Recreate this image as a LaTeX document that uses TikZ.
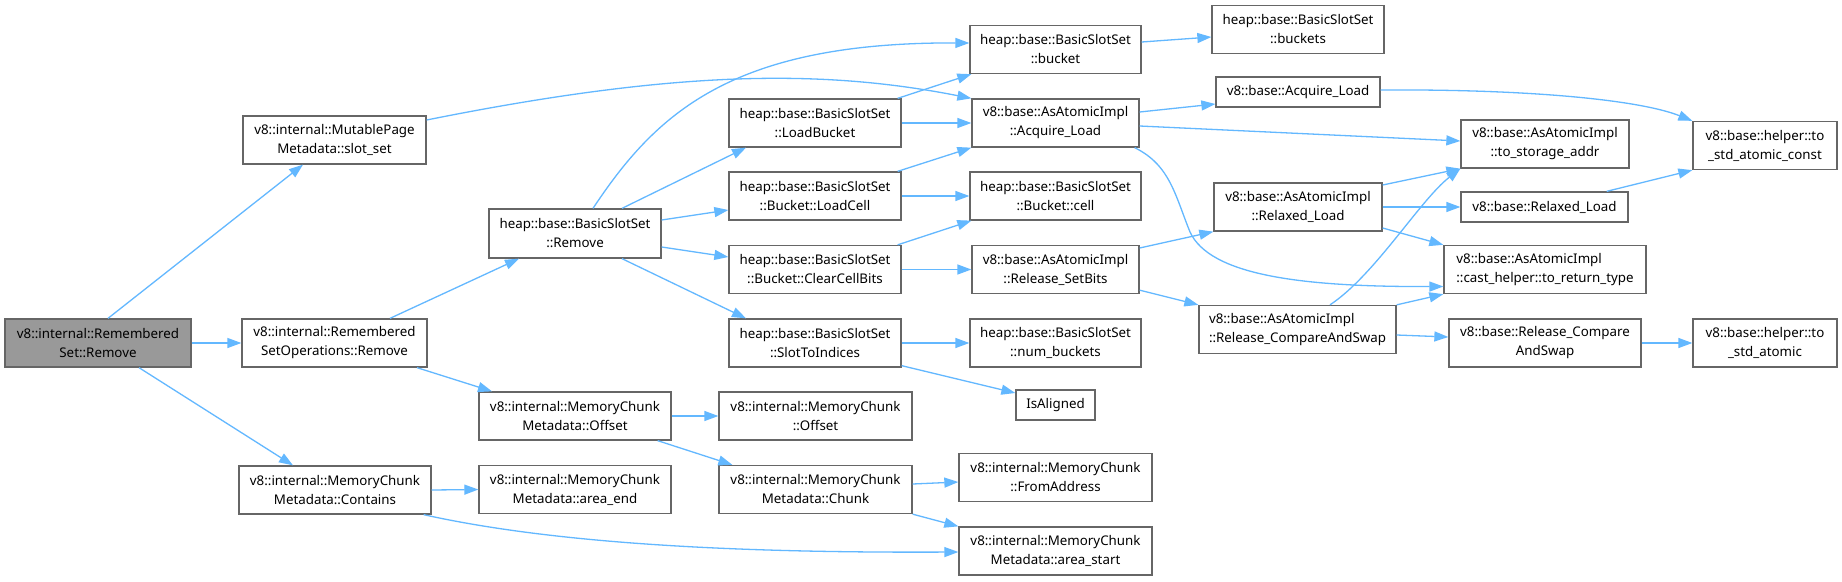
\documentclass[tikz,border=0pt]{standalone}
\usepackage{fontspec}
\setmainfont{Noto Sans}
\usetikzlibrary{arrows.meta}
\definecolor{boxgray}{HTML}{666666}
\definecolor{hlgray}{HTML}{999999}
\definecolor{edgeblue}{HTML}{63B8FF}
\newcommand{\nodefnt}{\fontsize{13.33pt}{19pt}\selectfont}
\tikzset{
  box/.style={draw=boxgray, line width=1.3pt, fill=white, inner sep=1pt, align=center, font=\nodefnt, text=black, minimum height=48pt},
  hl/.style={fill=hlgray},
  conn/.style={draw=edgeblue, line width=1.3pt, -{Triangle[length=14pt,width=10pt]}},
}
\begin{document}
\begin{tikzpicture}[x=1pt,y=-1pt]
\useasboundingbox[fill=white] (0,0) rectangle (1842,581);
% nodes
\node[box,hl,minimum width=186pt] (rs) at (98,343) {v8::internal::Remembered\\Set::Remove};
\node[box,minimum width=183pt] (slot) at (334.5,140) {v8::internal::MutablePage\\Metadata::slot\_set};
\node[box,minimum width=185pt] (rso) at (334.5,343) {v8::internal::Remembered\\SetOperations::Remove};
\node[box,minimum width=192pt] (contains) at (335,490) {v8::internal::MemoryChunk\\Metadata::Contains};
\node[box,minimum width=172pt,minimum height=49pt] (bssremove) at (575,233.5) {heap::base::BasicSlotSet\\::Remove};
\node[box,minimum width=172pt] (loadbucket) at (815,123) {heap::base::BasicSlotSet\\::LoadBucket};
\node[box,minimum width=172pt] (loadcell) at (815,196) {heap::base::BasicSlotSet\\::Bucket::LoadCell};
\node[box,minimum width=172pt] (clearcell) at (815,269.5) {heap::base::BasicSlotSet\\::Bucket::ClearCellBits};
\node[box,minimum width=172pt] (slottoidx) at (815,343) {heap::base::BasicSlotSet\\::SlotToIndices};
\node[box,minimum width=192pt] (mcmoffset) at (575,416) {v8::internal::MemoryChunk\\Metadata::Offset};
\node[box,minimum width=192pt] (areaend) at (575,489.5) {v8::internal::MemoryChunk\\Metadata::area\_end};
\node[box,minimum width=193pt] (mcoffset) at (815.5,416) {v8::internal::MemoryChunk\\::Offset};
\node[box,minimum width=193pt] (chunk) at (815.5,489.5) {v8::internal::MemoryChunk\\Metadata::Chunk};
\node[box,minimum width=171pt] (bucket) at (1055.5,49.5) {heap::base::BasicSlotSet\\::bucket};
\node[box,minimum width=167pt] (acqload) at (1055.5,123) {v8::base::AsAtomicImpl\\::Acquire\_Load};
\node[box,minimum width=171pt] (cell) at (1055.5,196) {heap::base::BasicSlotSet\\::Bucket::cell};
\node[box,minimum width=167pt] (relsetbits) at (1055.5,269.5) {v8::base::AsAtomicImpl\\::Release\_SetBits};
\node[box,minimum width=171pt] (numbuckets) at (1055.5,343) {heap::base::BasicSlotSet\\::num\_buckets};
\node[box,minimum width=79pt,minimum height=30pt] (isaligned) at (1055.5,405) {IsAligned};
\node[box,minimum width=193pt] (fromaddr) at (1055.5,477.5) {v8::internal::MemoryChunk\\::FromAddress};
\node[box,minimum width=193pt] (areastart) at (1055.5,551) {v8::internal::MemoryChunk\\Metadata::area\_start};
\node[box,minimum width=172pt] (buckets) at (1298,29.5) {heap::base::BasicSlotSet\\::buckets};
\node[box,minimum width=164pt,minimum height=30pt] (bacqload) at (1298,92) {v8::base::Acquire\_Load};
\node[box,minimum width=168pt] (relaxload) at (1298,207) {v8::base::AsAtomicImpl\\::Relaxed\_Load};
\node[box,minimum width=197pt,align=left] (relcas) at (1297.5,329.5) {v8::base::AsAtomicImpl\\::Release\_CompareAndSwap};
\node[box,minimum width=168pt] (tostorage) at (1545,144) {v8::base::AsAtomicImpl\\::to\_storage\_addr};
\node[box,minimum width=167pt,minimum height=30pt] (brelaxload) at (1544.5,207) {v8::base::Relaxed\_Load};
\node[box,minimum width=202pt,align=left] (toreturn) at (1545,269.5) {v8::base::AsAtomicImpl\\::cast\_helper::to\_return\_type};
\node[box,minimum width=192pt] (brelcas) at (1545,343) {v8::base::Release\_Compare\\AndSwap};
\node[box,minimum width=144pt] (toconst) at (1765,145.5) {v8::base::helper::to\\\_std\_atomic\_const};
\node[box,minimum width=144pt] (tostdatomic) at (1765,343) {v8::base::helper::to\\\_std\_atomic};
% connectors
\draw[conn] ([xshift=10pt]rs.north) -- ([xshift=-31.5pt]slot.south);
\draw[conn] (rs.east) -- (rso.west);
\draw[conn] ([xshift=41pt]rs.south) -- ([xshift=-42pt]contains.north);
\draw[conn] ([yshift=20pt]slot.east) .. controls (676,70) and (822,69) .. (acqload.north west);
\draw[conn] ([xshift=55.5pt]rso.north) -- ([xshift=-56pt]bssremove.south);
\draw[conn] ([xshift=82.5pt]rso.south) -- ([xshift=-83pt]mcmoffset.north);
\draw[conn] ([xshift=18pt]bssremove.north) .. controls (655,115) and (730,42) .. ([yshift=6.5pt]bucket.west);
\draw[conn] ([xshift=47pt]bssremove.north) -- ([xshift=-69pt]loadbucket.south);
\draw[conn] ([yshift=13.5pt]bssremove.east) -- ([yshift=-14pt]loadcell.west);
\draw[conn] ([yshift=-13.5pt]bssremove.east) -- ([yshift=12.5pt]clearcell.west);
\draw[conn] ([xshift=47pt]bssremove.south) -- ([xshift=-69pt]slottoidx.north);
\draw[conn] ([xshift=-4pt]loadbucket.north east) -- ([xshift=2pt]bucket.south west);
\draw[conn] (loadbucket.east) -- (acqload.west);
\draw[conn] ([xshift=-4pt]loadcell.north east) -- (acqload.south west);
\draw[conn] (loadcell.east) -- (cell.west);
\draw[conn] ([xshift=-4pt]clearcell.north east) -- ([xshift=2pt]cell.south west);
\draw[conn] (clearcell.east) -- (relsetbits.west);
\draw[conn] (slottoidx.east) -- (numbuckets.west);
\draw[conn] ([yshift=2pt]slottoidx.south east) -- ([yshift=12pt]isaligned.west);
\draw[conn] (mcmoffset.east) -- (mcoffset.west);
\draw[conn] ([xshift=-14pt]mcmoffset.south east) -- ([xshift=14pt]chunk.north west);
\draw[conn] (contains.east) -- (areaend.west);
\draw[conn] ([xshift=-8pt]contains.south east) .. controls (560,545) and (750,553) .. ([yshift=-1pt]areastart.west);
\draw[conn] ([yshift=5.5pt]chunk.east) -- ([yshift=-4.5pt]fromaddr.west);
\draw[conn] (chunk.south east) -- (areastart.north west);
\draw[conn] ([yshift=7.5pt]bucket.east) -- ([yshift=-7.5pt]buckets.west);
\draw[conn] ([yshift=11pt]acqload.east) -- ([yshift=-12pt]bacqload.west);
\draw[conn] ([yshift=-3pt]acqload.east) -- ([yshift=3pt]tostorage.west);
\draw[conn] ([xshift=-5pt]acqload.south east) .. controls (1170,165) and (1175,195) .. (1190,232) .. controls (1210,275) and (1300,287) .. ([yshift=-17pt]toreturn.west);
\draw[conn] ([yshift=2pt]bacqload.east) .. controls (1530,89) and (1640,100) .. (toconst.north west);
\draw[conn] ([yshift=22pt]relaxload.east) -- (tostorage.south west);
\draw[conn] (relaxload.east) -- (brelaxload.west);
\draw[conn] ([yshift=-21pt]relaxload.east) -- (toreturn.north west);
\draw[conn] ([yshift=21.5pt]relsetbits.east) -- (relaxload.south west);
\draw[conn] ([yshift=4pt]relsetbits.south east) -- (relcas.north west);
\draw[conn] ([xshift=32.5pt]relcas.north) .. controls (1375,275) and (1420,200) .. (tostorage.south west);
\draw[conn] (relcas.north east) -- (toreturn.south west);
\draw[conn] ([yshift=-5.5pt]relcas.east) -- ([yshift=6pt]brelcas.west);
\draw[conn] ([xshift=-22pt]brelaxload.north east) -- (toconst.south west);
\draw[conn] (brelcas.east) -- (tostdatomic.west);
\end{tikzpicture}
\end{document}
